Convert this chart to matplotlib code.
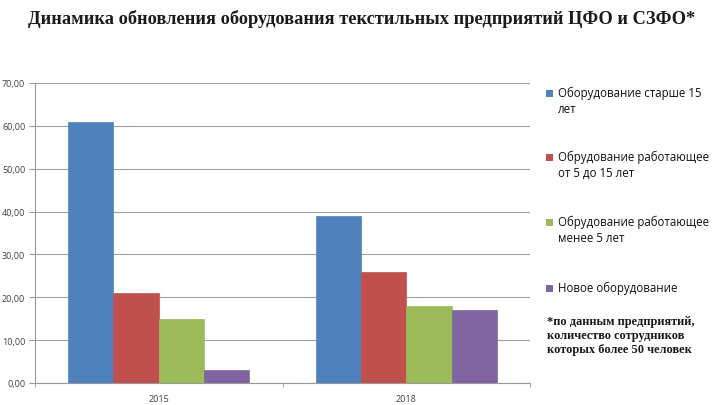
import matplotlib
matplotlib.use("Agg")
import matplotlib.pyplot as plt
from matplotlib.patches import Rectangle
import numpy as np

years = ["2015", "2018"]
series_names = [
    "Оборудование старше 15\nлет",
    "Обрудование работающее\nот 5 до 15 лет",
    "Обрудование работающее\nменее 5 лет",
    "Новое оборудование",
]
old_15 = [61, 39]
mid_5_15 = [21, 26]
less_5 = [15, 18]
new_eq = [3, 17]
yticks = [0, 10, 20, 30, 40, 50, 60, 70]

colors = ["#4F81BD", "#C0504D", "#9BBB59", "#8064A2"]
values = [old_15, mid_5_15, less_5, new_eq]

W, H = 720, 406
fig = plt.figure(figsize=(7.2, 4.06), dpi=100)
ax = fig.add_axes([35 / W, (H - 384) / H, (530 - 35) / W, (384 - 84) / H])

x = np.arange(len(years))
bw = 0.183
for i, (vals, c) in enumerate(zip(values, colors)):
    ax.bar(x + (i - 1.5) * bw, vals, width=bw, color=c, edgecolor=c, linewidth=0.5, zorder=3)

ax.set_xlim(-0.5, 1.5)
ax.set_ylim(0, 70)
ax.set_yticks(yticks)
ax.set_yticklabels([f"{v:.2f}".replace(".", ",") for v in yticks],
                   fontsize=6.5, color="#404040", family="Open Sans")
ax.set_xticks(x)
ax.set_xticklabels(years, fontsize=6.5, color="#404040", family="Open Sans")
ax.set_xticks([-0.5, 0.5, 1.5], minor=True)
ax.tick_params(axis="x", which="major", length=0, pad=8)
ax.tick_params(axis="x", which="minor", length=3, color="#9a9a9a")
ax.tick_params(axis="y", length=4, color="#9a9a9a", pad=3)
ax.grid(axis="y", color="#a0a0a0", linewidth=0.8, zorder=0)
for s in ["top", "right"]:
    ax.spines[s].set_visible(False)
for s in ["left", "bottom"]:
    ax.spines[s].set_color("#9a9a9a")
    ax.spines[s].set_linewidth(0.8)

fig.text(28 / W, 1 - 19 / H,
         "Динамика обновления оборудования текстильных предприятий ЦФО и СЗФО*",
         fontsize=13.25, fontweight="bold", family="Liberation Serif",
         color="#1a1a1a", va="center", ha="left")

leg_y = [94, 158, 223, 289]
for name, c, yy in zip(series_names, colors, leg_y):
    fig.patches.append(Rectangle(((546) / W, 1 - (yy + 3.5) / H), 7 / W, 7 / H,
                                 transform=fig.transFigure, facecolor=c, edgecolor="none"))
    fig.text(558 / W, 1 - (yy - 7) / H, name, fontsize=8.3, family="Open Sans",
             color="#111111", va="top", ha="left", linespacing=1.3)

fig.text(547 / W, 1 - 316 / H,
         "*по данным предприятий,\nколичество сотрудников\nкоторых более 50 человек",
         fontsize=8.9, fontweight="bold", family="Liberation Serif",
         color="#1a1a1a", va="top", ha="left", linespacing=1.25)

fig.savefig("out.png", dpi=100)
